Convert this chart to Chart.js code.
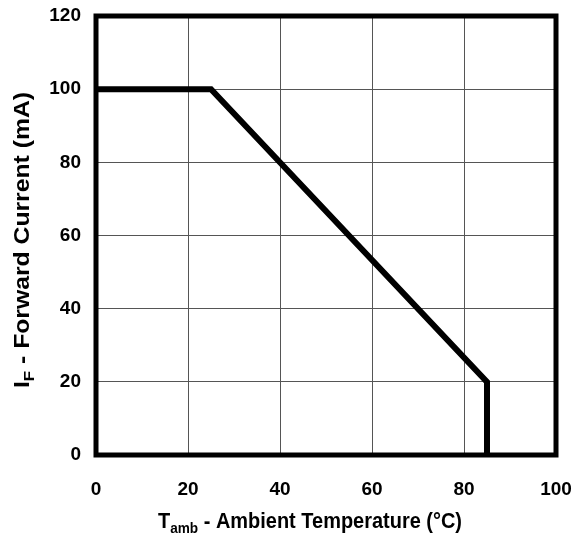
<!DOCTYPE html>
<html>
<head>
<meta charset="utf-8">
<script src="https://cdn.jsdelivr.net/npm/chart.js@4/dist/chart.umd.min.js"></script>
<style>
  html, body { margin: 0; padding: 0; background: #fff; overflow: hidden; }
  canvas { display: block; }
</style>
</head>
<body>
<canvas id="chart" width="576" height="539"></canvas>
<script>
// derating curve: forward current vs ambient temperature
const tempC = [0, 25, 85, 85];
const currentMA = [100, 100, 20, 0];
const xTicks = [0, 20, 40, 60, 80, 100];
const yTicks = [0, 20, 40, 60, 80, 100, 120];

const FONT = "'Liberation Sans', Arial, sans-serif";

// title with a subscript piece, squeezed to a given width around (0,0)
function drawTitle(ctx, parts, size, target) {
  const fontOf = p => "bold " + (p.sub ? Math.round(size * 0.68) : size) + "px " + FONT;
  let w = 0;
  parts.forEach(p => { ctx.font = fontOf(p); w += ctx.measureText(p.t).width; });
  ctx.scale(target / w, 1);
  let x = -w / 2;
  parts.forEach(p => {
    ctx.font = fontOf(p);
    ctx.fillText(p.t, x, p.sub ? size * 0.3 : 0);
    x += ctx.measureText(p.t).width;
  });
}

const frame = {
  id: 'frame',
  afterDatasetsDraw(chart) {
    const { ctx, chartArea: a } = chart;
    ctx.save();
    ctx.strokeStyle = '#000';
    ctx.lineWidth = 5;
    ctx.lineJoin = 'miter';
    ctx.strokeRect(a.left, a.top, a.right - a.left, a.bottom - a.top);
    ctx.restore();

    ctx.save();
    ctx.fillStyle = '#000';
    ctx.textBaseline = 'middle';
    ctx.translate(310, 522);
    drawTitle(ctx, [{ t: 'T' }, { t: 'amb', sub: true }, { t: ' - Ambient Temperature (°C)' }], 22, 304);
    ctx.restore();

    ctx.save();
    ctx.fillStyle = '#000';
    ctx.textBaseline = 'middle';
    ctx.translate(23, 240);
    ctx.rotate(-Math.PI / 2);
    drawTitle(ctx, [{ t: 'I' }, { t: 'F', sub: true }, { t: ' - Forward Current (mA)' }], 22, 296);
    ctx.restore();
  }
};

new Chart(document.getElementById('chart'), {
  type: 'scatter',
  data: {
    datasets: [{
      data: tempC.map((t, i) => ({ x: t, y: currentMA[i] })),
      showLine: true,
      borderColor: '#000',
      borderWidth: 6,
      pointRadius: 0,
      tension: 0,
      clip: false
    }]
  },
  options: {
    responsive: false,
    animation: false,
    devicePixelRatio: 1,
    layout: { padding: { left: 0, top: 16, right: 20, bottom: 0 } },
    plugins: { legend: { display: false }, tooltip: { enabled: false } },
    scales: {
      x: {
        type: 'linear', min: 0, max: 100,
        afterBuildTicks: s => { s.ticks = xTicks.map(v => ({ value: v })); },
        afterFit: s => { s.height = 84; s.paddingLeft = 0; s.paddingRight = 0; },
        grid: { color: '#555', lineWidth: 1, drawTicks: false },
        border: { display: false },
        ticks: { color: '#000', padding: 23, font: { family: FONT, size: 19, weight: 'bold' } }
      },
      y: {
        type: 'linear', min: 0, max: 120,
        afterBuildTicks: s => { s.ticks = yTicks.map(v => ({ value: v })); },
        afterFit: s => { s.width = 96; s.paddingTop = 0; s.paddingBottom = 0; },
        grid: { color: '#555', lineWidth: 1, drawTicks: false },
        border: { display: false },
        ticks: { color: '#000', padding: 15, font: { family: FONT, size: 19, weight: 'bold' } }
      }
    }
  },
  plugins: [frame]
});
</script>
</body>
</html>
